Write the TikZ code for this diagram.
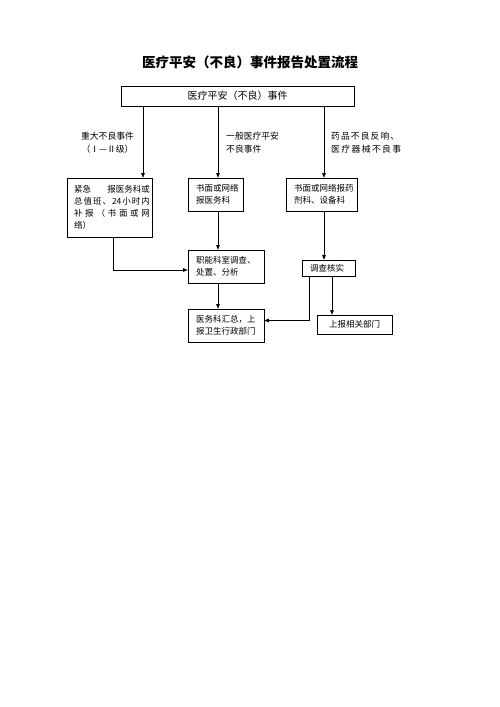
\documentclass[tikz,border=0pt]{standalone}
\usepackage{fontspec}
\setmainfont{Noto Sans CJK SC}
\usetikzlibrary{arrows.meta}
\tikzset{
  box/.style={draw=black, line width=0.6pt, rectangle, inner xsep=0pt, inner ysep=0pt, align=left, font=\fontsize{8.5}{12}\selectfont},
  lbl/.style={inner sep=0pt, font=\fontsize{8.8}{13}\selectfont},
  conn/.style={line width=0.6pt, -{Triangle[length=4.5pt,width=3.5pt]}},
  plain/.style={line width=0.6pt}
}
\begin{document}
\begin{tikzpicture}[x=1pt,y=-1pt]
\useasboundingbox (0,0) rectangle (500,707);
\node[font=\fontsize{13.5}{16}\selectfont\bfseries] (title) at (250,62) {医疗平安（不良）事件报告处置流程};
\node[draw=black, line width=0.6pt, minimum width=233pt, minimum height=20pt, inner sep=0pt, font=\fontsize{10}{12}\selectfont] (top) at (237.5,96) {医疗平安（不良）事件};

\node[box, minimum width=85pt, minimum height=59pt, text width=85pt] (left) at (109.5,207.5)
  {\hspace*{7pt}\hbox to 76pt{紧急\hspace{16pt}\hfil 报医务科或}\\
   \hspace*{7pt}\hbox to 76pt{总\hfil 值\hfil 班\hfil 、\hfil 24\hfil 小\hfil 时\hfil 内}\\
   \hspace*{7pt}\hbox to 76pt{补\hfill 报\hfill （\hfill 书\hfill 面\hfill 或\hfill 网}\\
   \hspace*{7pt}络）};
\node[box, minimum width=55pt, minimum height=33pt, text width=55pt] (mid) at (215.5,194.5)
  {\hspace*{8pt}书面或网络\\ \hspace*{8pt}报医务科};
\node[box, minimum width=71pt, minimum height=33pt, text width=71pt] (right) at (321.5,194.5)
  {\hspace*{8pt}书面或网络报药\\ \hspace*{8pt}剂科、设备科};
\node[box, minimum width=76pt, minimum height=33pt, text width=76pt] (func) at (226,266.5)
  {\hspace*{8pt}职能科室调查、\\ \hspace*{8pt}处置、分析};
\node[box, minimum width=53pt, minimum height=16pt, text width=53pt] (verify) at (328.5,268)
  {\hspace*{8pt}调查核实};
\node[box, minimum width=76pt, minimum height=33pt, text width=76pt] (sum) at (226,325.5)
  {\hspace*{8pt}医务科汇总，上\\ \hspace*{8pt}报卫生行政部门};
\node[box, minimum width=75pt, minimum height=19pt, text width=75pt] (rep) at (354.5,324.5)
  {\hspace*{12pt}上报相关部门};

\node[lbl, align=center] (l1) at (107.5,142.5) {重大不良事件\\（Ⅰ—Ⅱ级）};
\node[lbl, align=left, anchor=west] (l2) at (226,142.5) {一般医疗平安\\不良事件};
\node[lbl, align=left, anchor=west] (l3) at (331,142.5) {\hbox to 68pt{药\hfill 品\hfill 不\hfill 良\hfill 反\hfill 响\hfill 、}\\\hbox to 70pt{医\hfill 疗\hfill 器\hfill 械\hfill 不\hfill 良\hfill 事}};

\coordinate (c1) at (143,0);
\coordinate (c2) at (218,0);
\coordinate (c3) at (324,0);
\coordinate (c4) at (113,0);
\coordinate (c5) at (309,0);
\coordinate (c6) at (332,0);

\draw[conn] (top.south -| c1) -- (left.north -| c1);
\draw[conn] (top.south -| c2) -- (mid.north -| c2);
\draw[conn] (top.south -| c3) -- (right.north -| c3);
\draw[conn] (left.south -| c4) |- ([yshift=-3.5pt]func.west);
\draw[conn] (mid.south -| c2) -- (func.north -| c2);
\draw[conn] (right.south -| c3) -- (verify.north -| c3);
\draw[conn] (func.south -| c2) -- (sum.north -| c2);
\draw[conn] (verify.south -| c5) |- ([yshift=5pt]sum.east);
\draw[conn] (verify.south -| c6) -- (rep.north -| c6);
\end{tikzpicture}
\end{document}
